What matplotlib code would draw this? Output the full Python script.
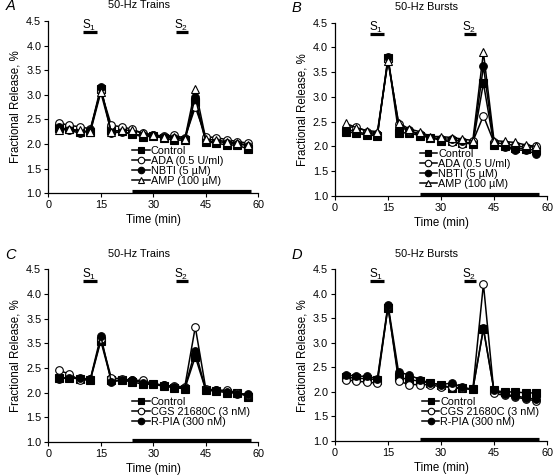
import matplotlib
matplotlib.use('Agg')
import matplotlib.pyplot as plt

plt.rcParams['font.family'] = ['Liberation Sans', 'DejaVu Sans']
plt.rcParams['mathtext.fontset'] = 'custom'
plt.rcParams['mathtext.rm'] = 'Liberation Sans'

# sampling times (min)
time = [3, 6, 9, 12, 15, 18, 21, 24, 27, 30, 33, 36, 39, 42, 45, 48, 51, 54, 57]

# panel A: 50-Hz trains
a_control = [2.33, 2.30, 2.25, 2.25, 3.12, 2.28, 2.26, 2.20, 2.15, 2.16, 2.12, 2.08, 2.08, 2.85, 2.05, 2.02, 1.98, 1.98, 1.90]
a_ada = [2.43, 2.38, 2.35, 2.31, 3.08, 2.38, 2.35, 2.30, 2.22, 2.19, 2.16, 2.18, 2.12, 2.75, 2.15, 2.13, 2.09, 2.05, 2.02]
a_nbti = [2.35, 2.28, 2.22, 2.28, 3.16, 2.22, 2.25, 2.20, 2.18, 2.18, 2.14, 2.12, 2.10, 2.95, 2.05, 2.05, 2.03, 2.00, 1.97]
a_amp = [2.28, 2.30, 2.28, 2.24, 3.05, 2.25, 2.28, 2.28, 2.22, 2.18, 2.15, 2.15, 2.10, 3.12, 2.10, 2.08, 2.05, 2.02, 1.98]

# panel B: 50-Hz bursts
b_control = [2.30, 2.27, 2.23, 2.22, 3.78, 2.28, 2.27, 2.22, 2.18, 2.12, 2.10, 2.07, 2.05, 3.28, 2.02, 2.00, 1.97, 1.95, 1.92]
b_ada = [2.38, 2.40, 2.30, 2.25, 3.75, 2.45, 2.32, 2.25, 2.18, 2.15, 2.08, 2.05, 2.10, 2.62, 2.08, 2.05, 2.02, 1.98, 2.00]
b_nbti = [2.35, 2.30, 2.25, 2.25, 3.80, 2.38, 2.33, 2.22, 2.18, 2.15, 2.15, 2.10, 2.05, 3.62, 2.05, 1.98, 1.93, 1.92, 1.85]
b_amp = [2.47, 2.38, 2.32, 2.30, 3.72, 2.48, 2.35, 2.30, 2.20, 2.20, 2.18, 2.15, 2.12, 3.90, 2.12, 2.10, 2.08, 2.03, 2.00]

# panel C: 50-Hz trains
c_control = [2.30, 2.30, 2.28, 2.25, 3.05, 2.25, 2.25, 2.22, 2.17, 2.17, 2.13, 2.10, 2.08, 2.73, 2.05, 2.03, 2.00, 2.00, 1.92]
c_cgs = [2.45, 2.38, 2.25, 2.27, 3.08, 2.30, 2.28, 2.25, 2.25, 2.18, 2.15, 2.13, 2.12, 3.33, 2.08, 2.05, 2.05, 2.00, 1.95]
c_rpia = [2.28, 2.30, 2.30, 2.27, 3.15, 2.22, 2.25, 2.25, 2.20, 2.18, 2.15, 2.12, 2.10, 2.85, 2.05, 2.05, 2.02, 1.98, 1.97]

# panel D: 50-Hz bursts
d_control = [2.30, 2.28, 2.27, 2.25, 3.72, 2.30, 2.25, 2.22, 2.18, 2.15, 2.08, 2.07, 2.05, 3.28, 2.03, 2.00, 2.00, 1.98, 1.98]
d_cgs = [2.25, 2.22, 2.20, 2.18, 3.75, 2.22, 2.15, 2.15, 2.15, 2.10, 2.10, 2.08, 2.05, 4.20, 1.97, 1.93, 1.90, 1.85, 1.82]
d_rpia = [2.35, 2.32, 2.32, 2.27, 3.78, 2.40, 2.35, 2.25, 2.18, 2.15, 2.18, 2.10, 2.05, 3.30, 2.03, 1.95, 1.92, 1.88, 1.85]

yticks = [1.0, 1.5, 2.0, 2.5, 3.0, 3.5, 4.0, 4.5]
ytick_labels = ['1.0', '1.5', '2.0', '2.5', '3.0', '3.5', '4.0', '4.5']
ytick_labels_c = ['1.0', '1.5', '2.0', '2.5', '3.5', '3.5', '4.0', '4.5']  # as printed in panel C
xticks = [0, 15, 30, 45, 60]

styles = {
    'Control': dict(marker='s', mfc='black'),
    'ADA (0.5 U/ml)': dict(marker='o', mfc='white'),
    'NBTI (5 µM)': dict(marker='o', mfc='black'),
    'AMP (100 µM)': dict(marker='^', mfc='white'),
    'CGS 21680C (3 nM)': dict(marker='o', mfc='white'),
    'R-PIA (300 nM)': dict(marker='o', mfc='black'),
}

panels = [
    ('A', '50-Hz Trains', [0.0872, 0.593, 0.379, 0.363], ytick_labels,
     [('Control', a_control), ('ADA (0.5 U/ml)', a_ada), ('NBTI (5 µM)', a_nbti), ('AMP (100 µM)', a_amp)],
     (0.40, 0.275)),
    ('B', '50-Hz Bursts', [0.6047, 0.5874, 0.3827, 0.365], ytick_labels,
     [('Control', b_control), ('ADA (0.5 U/ml)', b_ada), ('NBTI (5 µM)', b_nbti), ('AMP (100 µM)', b_amp)],
     (0.40, 0.27)),
    ('C', '50-Hz Trains', [0.0872, 0.0695, 0.379, 0.3635], ytick_labels_c,
     [('Control', c_control), ('CGS 21680C (3 nM)', c_cgs), ('R-PIA (300 nM)', c_rpia)],
     (0.40, 0.26)),
    ('D', '50-Hz Bursts', [0.6047, 0.0716, 0.3827, 0.3615], ytick_labels,
     [('Control', d_control), ('CGS 21680C (3 nM)', d_cgs), ('R-PIA (300 nM)', d_rpia)],
     (0.41, 0.255)),
]

fig = plt.figure(figsize=(5.54, 4.75), dpi=100)

for letter, title, rect, ylabels, series, leg_pos in panels:
    ax = fig.add_axes(rect)
    for name, vals in series:
        st = styles[name]
        ax.plot(time, vals, color='black', lw=1.1, marker=st['marker'],
                mfc=st['mfc'], mec='black', mew=0.8, ms=5.5, label=name)

    # stimulation and drug bars
    ax.plot([10, 14], [4.27, 4.27], color='black', lw=2.3, solid_capstyle='butt')
    ax.plot([36.5, 40], [4.27, 4.27], color='black', lw=2.3, solid_capstyle='butt')
    ax.text(11.6, 4.40, r'S$_\mathregular{1}$', ha='center', va='center', fontsize=8.5)
    ax.text(37.9, 4.40, r'S$_\mathregular{2}$', ha='center', va='center', fontsize=8.5)
    ax.plot([24, 57.8], [1.05, 1.05], color='black', lw=2.3, solid_capstyle='butt')

    ax.set_xlim(0, 60)
    ax.set_ylim(1.0, 4.5)
    ax.set_xticks(xticks)
    ax.set_yticks(yticks)
    ax.set_yticklabels(ylabels)
    ax.tick_params(labelsize=7.8, length=3, width=0.8, direction='out', pad=2)
    ax.spines['top'].set_visible(False)
    ax.spines['right'].set_visible(False)
    ax.spines['left'].set_linewidth(0.9)
    ax.spines['bottom'].set_linewidth(0.9)
    ax.set_xlabel('Time (min)', fontsize=8.3, labelpad=3)
    ax.set_ylabel('Fractional Release, %', fontsize=8.3, labelpad=3)

    ax.text(0.43, 1.09, title, transform=ax.transAxes, ha='center', va='center', fontsize=7.8)
    ax.text(-0.205, 1.085, letter, transform=ax.transAxes, ha='left', va='center',
            fontsize=10.5, style='italic')

    ax.legend(loc='upper left', bbox_to_anchor=leg_pos, frameon=False, fontsize=7.8,
              labelspacing=0.0, handlelength=1.6, handletextpad=0.1, borderpad=0,
              borderaxespad=0, markerscale=0.85)

plt.savefig('out.png', dpi=100)
